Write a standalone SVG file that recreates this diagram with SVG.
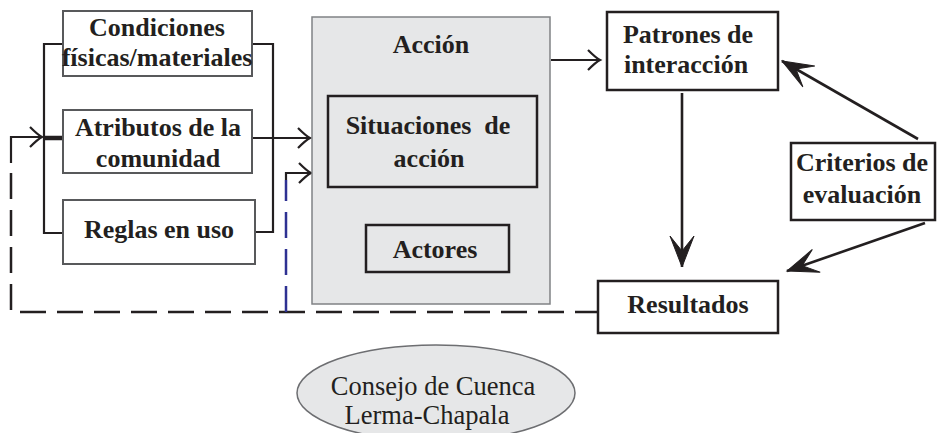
<svg xmlns="http://www.w3.org/2000/svg" width="938" height="433" viewBox="0 0 938 433">
<style>
  .t { font-family: "Liberation Serif", "Times New Roman", serif; font-weight: bold; font-size: 26px; fill: #231f20; text-anchor: middle; }
  .r { font-family: "Liberation Serif", "Times New Roman", serif; font-size: 26.5px; fill: #231f20; text-anchor: middle; }
  .lbox { fill: #ffffff; stroke: #58595b; stroke-width: 2; }
  .dbox { fill: #ffffff; stroke: #231f20; stroke-width: 2.5; }
  .ibox { fill: none; stroke: #231f20; stroke-width: 2.5; }
  .ln { fill: none; stroke: #231f20; stroke-width: 2.2; }
  .lnb { fill: none; stroke: #231f20; stroke-width: 2.6; }
  .dash { fill: none; stroke: #231f20; stroke-width: 2.5; stroke-dasharray: 26 11; }
  .bdash { fill: none; stroke: #2e3192; stroke-width: 2.5; stroke-dasharray: 26 11; }
</style>
<defs>
  <marker id="open" markerUnits="userSpaceOnUse" viewBox="-14 -12 16 24" refX="0" refY="0" markerWidth="16" markerHeight="24" orient="auto" overflow="visible">
    <path d="M-12,-10 Q-4,-2 0,0 Q-4,2 -12,10" fill="none" stroke="#231f20" stroke-width="2.2"/>
  </marker>
  <marker id="big" markerUnits="userSpaceOnUse" viewBox="-34 -14 36 28" refX="0" refY="0" markerWidth="36" markerHeight="28" orient="auto" overflow="visible">
    <path d="M0,0 L-31,-12 L-16,0 L-31,12 Z" fill="#231f20" stroke="#231f20" stroke-width="1" stroke-linejoin="miter"/>
  </marker>
</defs>
<rect width="938" height="433" fill="#ffffff"/>

<g id="connectors">
  <path class="ln" d="M63,44 H44 V233 H63"/>
  <path class="ln" d="M252,44 H273 V232 H255"/>
  <path class="ln" d="M252,138 H310" marker-end="url(#open)"/>
  <path d="M44,138 H63" stroke="#231f20" stroke-width="4.5" fill="none"/>
  <path class="ln" d="M11,163 V137 H42" marker-end="url(#open)"/>
  <path class="dash" d="M11,173 V312 H598"/>
  <path class="bdash" d="M286,312 V180"/>
  <path class="ln" d="M286,180 V173 H311" marker-end="url(#open)"/>
  <path class="ln" d="M551,60 H600" marker-end="url(#open)"/>
  <path class="lnb" d="M682,93 V267" marker-end="url(#big)"/>
  <path class="lnb" d="M918,139 L782,61" marker-end="url(#big)"/>
  <path class="lnb" d="M925,223 L787,271" marker-end="url(#big)"/>
</g>

<g id="condiciones">
  <rect class="lbox" x="63" y="11" width="189" height="65"/>
  <text class="t" x="157" y="36">Condiciones</text>
  <text class="t" x="157" y="66">físicas/materiales</text>
</g>
<g id="atributos">
  <rect class="lbox" x="63" y="110" width="189" height="63"/>
  <text class="t" x="158" y="136">Atributos de la</text>
  <text class="t" x="158" y="167">comunidad</text>
</g>
<g id="reglas">
  <rect class="lbox" x="63" y="200" width="192" height="64"/>
  <text class="t" x="159" y="238">Reglas en uso</text>
</g>

<g id="accion">
  <rect x="312" y="17" width="238" height="287" fill="#e6e7e8" stroke="#808285" stroke-width="1.5"/>
  <text class="t" x="431" y="53">Acción</text>
</g>
<g id="situaciones">
  <rect class="ibox" x="328" y="96" width="209" height="91"/>
  <text class="t" x="428" y="134" xml:space="preserve">Situaciones  de</text>
  <text class="t" x="429" y="167">acción</text>
</g>
<g id="actores">
  <rect class="ibox" x="366" y="225" width="143" height="47"/>
  <text class="t" x="435" y="258">Actores</text>
</g>

<g id="patrones">
  <rect class="dbox" x="607" y="12" width="171" height="78"/>
  <text class="t" x="688" y="43">Patrones de</text>
  <text class="t" x="686" y="73">interacción</text>
</g>
<g id="criterios">
  <rect class="dbox" x="791" y="143" width="144" height="77"/>
  <text class="t" x="862" y="171">Criterios de</text>
  <text class="t" x="862" y="203">evaluación</text>
</g>
<g id="resultados">
  <rect class="dbox" x="598" y="281" width="180" height="52"/>
  <text class="t" x="688" y="313">Resultados</text>
</g>

<g id="consejo">
  <ellipse cx="436" cy="393" rx="139" ry="48" fill="#e6e7e8" stroke="#6d6e71" stroke-width="1.5"/>
  <text class="r" x="433" y="395">Consejo de Cuenca</text>
  <text class="r" x="427" y="424">Lerma-Chapala</text>
</g>
</svg>
